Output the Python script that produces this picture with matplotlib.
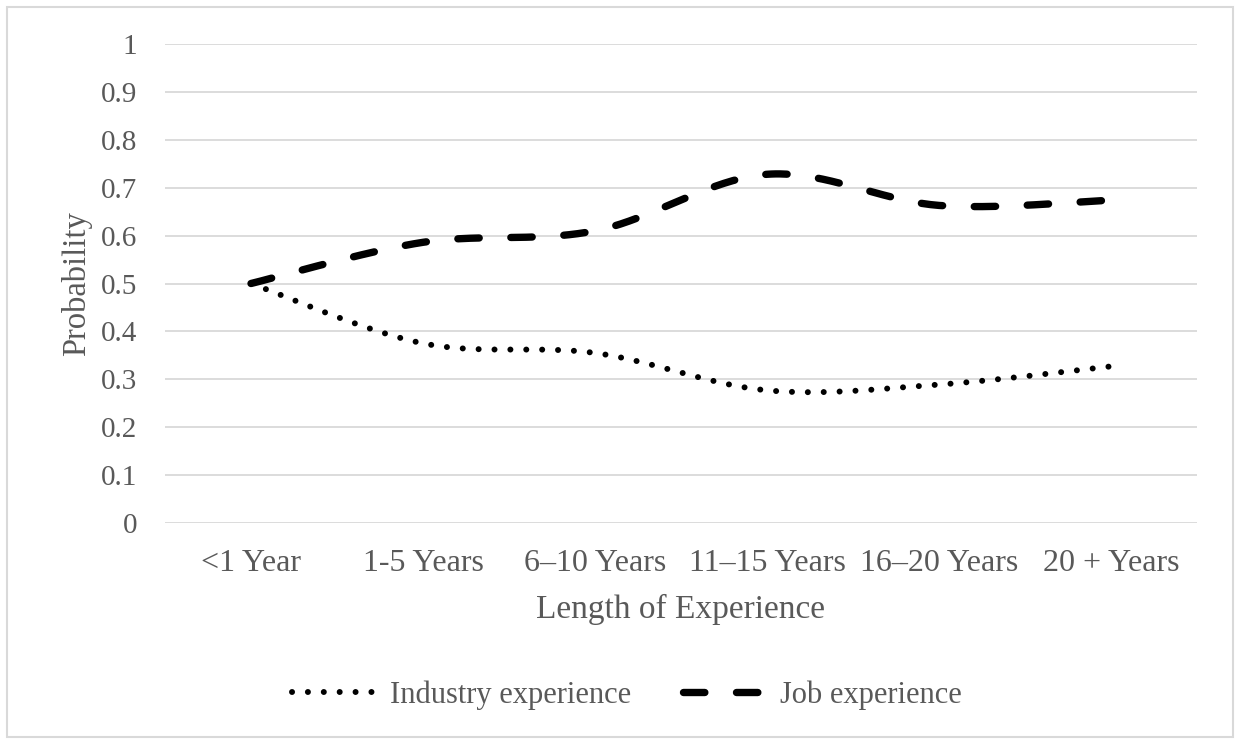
import numpy as np
import matplotlib
matplotlib.use("Agg")
from matplotlib import pyplot as plt
from matplotlib.patches import Rectangle
from matplotlib.lines import Line2D

categories = ["<1 Year", "1-5 Years", "6\u201310 Years", "11\u201315 Years", "16\u201320 Years", "20 + Years"]
industry = [0.50, 0.375, 0.355, 0.277, 0.289, 0.327]
job = [0.50, 0.586, 0.610, 0.728, 0.663, 0.674]
yticks = [0, 0.1, 0.2, 0.3, 0.4, 0.5, 0.6, 0.7, 0.8, 0.9, 1]
ytick_labels = ["0", "0.1", "0.2", "0.3", "0.4", "0.5", "0.6", "0.7", "0.8", "0.9", "1"]

grey = "#595959"
plt.rcParams['font.family'] = ['Liberation Serif', 'DejaVu Serif']


def smooth(xs, ys, n=40):
    # excel style smoothed line: cubic bezier between points, tangents from neighbours
    xs = np.asarray(xs, float)
    ys = np.asarray(ys, float)
    px, py = [], []
    for i in range(len(xs) - 1):
        x0, y0 = xs[max(i - 1, 0)], ys[max(i - 1, 0)]
        x1, y1 = xs[i], ys[i]
        x2, y2 = xs[i + 1], ys[i + 1]
        x3, y3 = xs[min(i + 2, len(xs) - 1)], ys[min(i + 2, len(xs) - 1)]
        c1x, c1y = x1 + (x2 - x0) / 6, y1 + (y2 - y0) / 6
        c2x, c2y = x2 - (x3 - x1) / 6, y2 - (y3 - y1) / 6
        t = np.linspace(0, 1, n, endpoint=(i == len(xs) - 2))
        px.extend((1 - t) ** 3 * x1 + 3 * (1 - t) ** 2 * t * c1x + 3 * (1 - t) * t ** 2 * c2x + t ** 3 * x2)
        py.extend((1 - t) ** 3 * y1 + 3 * (1 - t) ** 2 * t * c1y + 3 * (1 - t) * t ** 2 * c2y + t ** 3 * y2)
    return np.array(px), np.array(py)


fig = plt.figure(figsize=(12.41, 7.43), dpi=100)
fig.patches.append(Rectangle((7 / 1241, 6 / 743), 1226 / 1241, 730 / 743, transform=fig.transFigure,
                             fill=False, edgecolor="#d9d9d9", linewidth=1.5))

ax = fig.add_axes([165 / 1241, 1 - 523 / 743, 1032 / 1241, 479 / 743])
x = np.arange(len(categories))

dot_style = dict(color="black", linewidth=4.3, linestyle=(0, (0.01, 2.65)), dash_capstyle="round")
dash_style = dict(color="black", linewidth=5.3, linestyle=(0, (2.9, 4.3)), dash_capstyle="round")

sx, sy = smooth(x, industry)
ax.plot(sx, sy, **dot_style)
sx, sy = smooth(x, job)
ax.plot(sx, sy, **dash_style)

ax.set_xlim(-0.5, len(categories) - 0.5)
ax.set_ylim(0, 1)
ax.set_yticks(yticks)
ax.set_yticklabels(ytick_labels)
ax.set_xticks(x)
ax.set_xticklabels(categories)
ax.tick_params(length=0, colors=grey)
ax.tick_params(axis="y", pad=20, labelsize=21)
ax.tick_params(axis="x", pad=19, labelsize=23)
ax.grid(axis="y", color="#d9d9d9", linewidth=1.3)
ax.set_axisbelow(True)
for s in ax.spines.values():
    s.set_visible(False)

ax.set_xlabel("Length of Experience", fontsize=24, color=grey, labelpad=11)
ax.set_ylabel("Probability", fontsize=23.5, color=grey, labelpad=6)

handles = [Line2D([], [], **dot_style), Line2D([], [], **dash_style)]
fig.legend(handles, ["Industry experience", "Job experience"], loc="center",
           bbox_to_anchor=(627 / 1241, 1 - 695 / 743), ncol=2, frameon=False,
           fontsize=22, labelcolor=grey, handlelength=2.7, handletextpad=0.5, columnspacing=1.7)

fig.savefig("out.png", dpi=100)
